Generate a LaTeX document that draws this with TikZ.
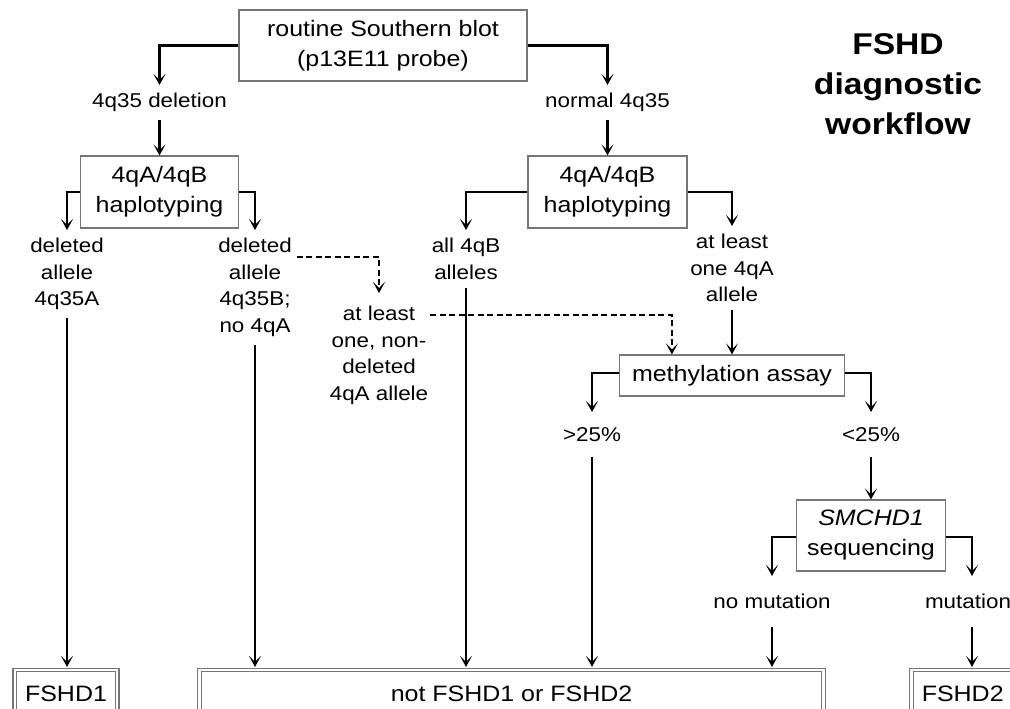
\documentclass[tikz,border=0pt]{standalone}
\usepackage{fontspec}
\setmainfont{Liberation Sans}[FakeStretch=1.12]
\usetikzlibrary{arrows.meta,calc}
\definecolor{boxgray}{HTML}{767676}
\begin{document}
\begin{tikzpicture}[x=1pt,y=-1pt,
  box/.style={draw=boxgray, line width=1.2pt, align=center, inner sep=0pt,
    font=\fontsize{22.3}{30}\selectfont},
  endbox/.style={draw=boxgray, double=white, double distance=2.4pt, line width=1.1pt,
    inner sep=0pt, minimum height=48pt, font=\fontsize{22.3}{30}\selectfont},
  lab/.style={align=center, anchor=north, inner xsep=2pt, inner ysep=8pt,
    font=\fontsize{20}{26.6}\selectfont},
  arr/.style={line width=2.2pt, -{Stealth[length=11pt,width=12pt,inset=6pt]}},
  dsh/.style={arr, dash pattern=on 6pt off 3.5pt}
]
\useasboundingbox (0,0) rectangle (1010,709);
\clip (0,0) rectangle (1010,709);

% title
\node[align=center, font=\fontsize{30}{40}\selectfont\bfseries] (title) at (898,84)
  {FSHD\\diagnostic\\workflow};

% process boxes
\node[box, minimum width=288pt, minimum height=71pt] (top) at (383,45.5)
  {routine Southern blot\\(p13E11 probe)};
\node[box, minimum width=158pt, minimum height=72pt] (hapL) at (159.5,192)
  {4qA/4qB\\haplotyping};
\node[box, minimum width=159pt, minimum height=72pt] (hapR) at (607.5,192)
  {4qA/4qB\\haplotyping};
\node[box, minimum width=225pt, minimum height=41pt] (meth) at (732,375.5)
  {methylation assay};
\node[box, minimum width=149pt, minimum height=71pt] (smc) at (871,535.5)
  {\textit{SMCHD1}\\sequencing};

% end boxes
\node[endbox, minimum width=102.5pt] (F1) at (66,694) {FSHD1};
\node[endbox, minimum width=624pt] (notF) at (511.5,694) {not FSHD1 or FSHD2};
\node[endbox, minimum width=102.5pt] (F2) at (962.7,694) {FSHD2};

% labels
\node[lab] (del) at (159.5,85) {4q35 deletion};
\node[lab] (norm) at (607.5,85) {normal 4q35};
\node[lab] (dA) at (67,230) {deleted\\allele\\4q35A};
\node[lab] (dB) at (255,230) {deleted\\allele\\4q35B;\\no 4qA};
\node[lab] (all) at (466,230) {all 4qB\\alleles};
\node[lab] (one) at (732,226) {at least\\one 4qA\\allele};
\node[lab] (nonDel) at (379,298) {at least\\one, non-\\deleted\\4qA allele};
\node[lab, inner ysep=15pt] (gt) at (592,412) {>25\%};
\node[lab, inner ysep=15pt] (lt) at (871,412) {<25\%};
\node[lab, inner ysep=18pt] (nomut) at (772,576) {no mutation};
\node[lab, inner ysep=18pt] (mut) at (968,576) {mutation};

% connectors
\draw[arr] (top.west) -| (del.north);
\draw[arr] (top.east) -| (norm.north);
\draw[arr] (del.south) -- (hapL.north);
\draw[arr] (norm.south) -- (hapR.north);
\draw[arr] (hapL.west) -| (dA.north);
\draw[arr] (hapL.east) -| (dB.north);
\draw[arr] (hapR.west) -| (all.north);
\draw[arr] (hapR.east) -| (one.north);
\draw[arr] (one.south) -- (meth.north);

\draw[dsh, shorten >=5pt] ([xshift=3pt,yshift=-27pt]dB.north east) -| (nonDel.north);
\draw[dsh] ([yshift=-17pt]nonDel.north east) -| ([xshift=53pt]meth.north west);

\draw[arr, shorten >=2.5pt] (dA.south) -- (dA.south |- F1.north);
\draw[arr, shorten >=2.5pt] (dB.south) -- (dB.south |- notF.north);
\draw[arr, shorten >=2.5pt] (all.south) -- (all.south |- notF.north);

\draw[arr] ([yshift=2.5pt]meth.west) -| (gt.north);
\draw[arr] ([yshift=2.5pt]meth.east) -| (lt.north);
\draw[arr, shorten >=2.5pt] (gt.south) -- (gt.south |- notF.north);
\draw[arr] (lt.south) -- (smc.north);

\draw[arr] ([yshift=-1.5pt]smc.west) -| (nomut.north);
\draw[arr] ([yshift=-1.5pt]smc.east) -| ([xshift=4pt]mut.north);
\draw[arr, shorten >=2.5pt] (nomut.south) -- (nomut.south |- notF.north);
\draw[arr, shorten >=2.5pt] ([xshift=4pt]mut.south) -- ([xshift=4pt]mut.south |- F2.north);
\end{tikzpicture}
\end{document}
